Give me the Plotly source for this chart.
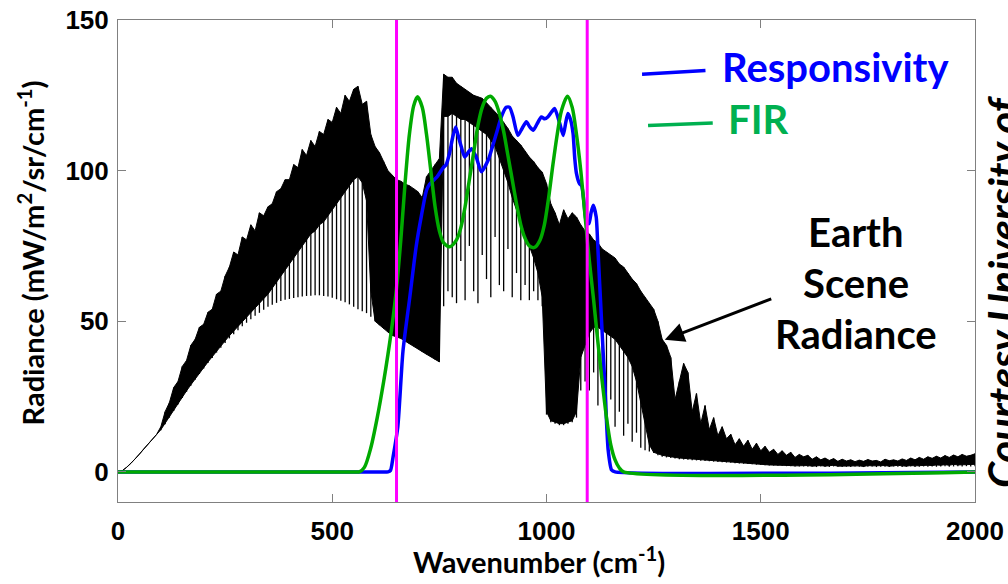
import plotly.graph_objects as go

# ---------------------------------------------------------------------------
# Earth-scene radiance spectrum, sampled every 10 cm^-1 from 0 to 2000 cm^-1.
#   rad_upper : top of the line spectrum (emission peaks)
#   rad_core  : bottom of the densely filled part of the spectrum
#   rad_lower : depth reached by the absorption lines
# ---------------------------------------------------------------------------
wavenumber = list(range(0, 2001, 10))

rad_upper = [
    0, 0.4, 1.5, 2.8, 4.3, 5.9, 7.6, 9.3, 10.9, 12.4,            # 0-90
    15, 20, 23, 28, 30, 35, 37, 42, 44, 48,                      # 100-190
    49, 53, 54, 59, 60, 65, 68, 73, 72, 78,                      # 200-290
    77, 82, 80, 86, 85, 88, 89, 93, 94, 97,                      # 300-390
    97, 102, 101, 107, 105, 110, 108, 113, 112, 117,             # 400-490
    116, 121, 119, 125, 123, 127, 128, 122, 123, 112,            # 500-590
    108, 106, 103, 100, 98.5, 97, 96.5, 95.5, 95, 94,            # 600-690
    93, 91, 98, 100, 102, 104, 132, 131, 131, 129,               # 700-790
    128, 127, 126, 125, 124.5, 124, 122.5, 121, 119.5, 118,      # 800-890
    116, 114, 111.5, 110, 108.5, 106.5, 104.5, 103, 101, 99.5,   # 900-990
    95.7, 89, 86, 82, 87, 84, 86, 84.6, 82, 80,                  # 1000-1090
    79, 77, 76, 74, 73, 72, 71, 69, 68, 66,                      # 1100-1190
    64, 62.5, 60, 58, 56, 54, 50, 44, 42, 38,                    # 1200-1290
    24, 30, 36, 33, 20, 26, 16, 22, 14, 18,                      # 1300-1390
    12, 15, 11, 12.5, 9, 11, 8.5, 10.5, 7.5, 9.5,                # 1400-1490
    7, 8.5, 6.5, 7.5, 5.8, 7, 5.5, 6.5, 4.8, 5.8,                # 1500-1590
    5, 5.5, 4.2, 5.0, 4.0, 4.6, 3.8, 4.4, 3.5, 4.2,              # 1600-1690
    3.6, 4.0, 3.4, 3.9, 3.5, 4.1, 3.6, 3.8, 3.3, 4.2,            # 1700-1790
    3.7, 4.0, 3.6, 4.3, 3.8, 4.6, 4.0, 4.8, 4.2, 5.0,            # 1800-1890
    4.5, 5.2, 4.6, 5.4, 4.8, 5.6, 5.0, 5.8, 5.2, 5.5,            # 1900-1990
    6.0,                                                         # 2000
]

rad_core = [
    0, 0.4, 1.5, 2.8, 4.3, 5.9, 7.6, 9.3, 10.9, 12.4,
    14, 16, 18.3, 20.5, 22.7, 24.8, 26.9, 28.9, 30.9, 32.8,
    34.6, 36.5, 38.3, 40.1, 41.8, 43.5, 45.2, 46.8, 48.4, 50,
    51.5, 53, 54.5, 56, 57.5, 59, 61, 63, 65, 67,
    69, 71, 73, 75, 77, 79, 80, 82, 83, 85,
    87, 89, 91, 93, 95, 97, 98, 96, 90, 60,
    50, 48.7, 47.5, 46.4, 45.3, 44.8, 44.3, 43.4, 42.5, 41.7,
    40.8, 39.9, 39, 38.2, 37.3, 36.5, 118, 118, 119, 118,
    117, 117, 116, 115, 114, 113, 112, 110, 108, 104,
    100, 96, 91, 87, 83, 79, 75, 71, 66, 58,
    20, 17, 16.5, 16, 16, 16.5, 17, 20, 38, 42,
    46, 48, 48, 47, 46, 45, 44, 42, 40, 38,
    35, 30, 24, 16, 9, 6.5, 6, 5.5, 5.2, 5,
    4.8, 4.6, 4.4, 4.3, 4.1, 4.0, 3.9, 3.8, 3.7, 3.6,
    3.5, 3.4, 3.3, 3.2, 3.1, 3.0, 2.9, 2.8, 2.7, 2.6,
    2.5, 2.4, 2.3, 2.3, 2.2, 2.2, 2.1, 2.1, 2.0, 2.0,
    2.0, 2.1, 1.9, 2.0, 2.1, 1.9, 2.0, 2.2, 1.9, 2.0,
    2.1, 1.9, 2.0, 2.0, 1.8, 2.1, 2.0, 1.9, 2.0, 2.1,
    1.9, 2.0, 2.2, 2.0, 1.9, 2.1, 2.0, 2.2, 2.1, 2.2,
    2.1, 2.3, 2.2, 2.4, 2.2, 2.5, 2.3, 2.4, 2.5, 2.4,
    2.5,
]

rad_lower = [
    0, 0.4, 1.5, 2.8, 4.3, 5.9, 7.6, 9.3, 10.9, 12.4,
    13.8, 15.8, 18, 20.2, 22.4, 24.5, 26.6, 28.6, 30.6, 32.5,
    34.3, 36.1, 37.8, 39.6, 41.2, 42.8, 44.3, 45.7, 47.0, 48.3,
    49.5, 50.7, 51.8, 52.8, 53.8, 54.8, 55.5, 56.1, 56.7, 57.1,
    57.4, 57.7, 58.0, 58.2, 58.4, 58.5, 58.6, 58.6, 58.4, 58.2,
    57.8, 57.3, 56.8, 56.3, 55.6, 54.8, 54.0, 53.3, 52.7, 51.5,
    50, 48.7, 47.5, 46.4, 45.3, 44.8, 44.3, 43.4, 42.5, 41.7,
    40.8, 39.9, 39, 38.2, 37.3, 36.5, 55, 60, 58, 56,
    70, 57, 75, 60, 56, 72, 64, 58, 78, 62,
    60, 74, 58, 66, 57, 62, 57, 60, 57, 55,
    19, 16.5, 16, 15.5, 15.5, 16, 16.5, 18, 27, 30,
    27, 33, 22, 28, 18, 24, 15, 20, 12, 16,
    10, 13, 8, 7.2, 6.8, 6.3, 5.5, 5.0, 4.8, 4.6,
    4.4, 4.2, 4.1, 4.0, 3.9, 3.8, 3.7, 3.6, 3.5, 3.4,
    3.3, 3.2, 3.1, 3.0, 2.9, 2.8, 2.7, 2.6, 2.5, 2.4,
    2.3, 2.2, 2.1, 2.1, 2.0, 2.0, 1.9, 1.9, 1.8, 1.8,
    1.8, 1.7, 1.8, 1.6, 1.8, 1.7, 1.6, 1.8, 1.7, 1.6,
    1.7, 1.6, 1.8, 1.7, 1.6, 1.7, 1.8, 1.6, 1.7, 1.7,
    1.6, 1.8, 1.7, 1.6, 1.7, 1.8, 1.6, 1.7, 1.8, 1.7,
    1.8, 1.7, 1.8, 1.9, 1.7, 1.8, 1.9, 1.8, 1.9, 1.8,
    1.9,
]

# Detector responsivity (scaled to the radiance axis)
resp_wn = [0, 600, 630, 636, 642, 653, 665, 681, 696, 708, 720, 727, 745,
           759, 766, 774, 781, 788, 795, 801, 809, 817, 825, 836, 848, 864,
           874, 883, 895, 906, 914, 922, 933, 943, 953, 961, 969, 978, 988,
           996, 1003, 1012, 1019, 1031, 1039, 1045, 1050, 1056, 1062, 1066,
           1070, 1077, 1082, 1087, 1093, 1099, 1104, 1109, 1116, 1120, 1128,
           1136, 1144, 1152, 1160, 2000]
resp_val = [0, 0, 0, 0.5, 5, 15, 40, 58, 75, 85, 93.5, 95.5, 98,
            101, 102, 106, 111, 114.5, 111, 108, 104.5, 106, 107.3, 104.5,
            99.6, 103.5, 108, 112.3, 118, 121, 121, 117.8, 111.7, 114,
            116.2, 114.5, 113.4, 115.5, 117.8, 117.2, 117.8, 119.5, 120.6,
            115.6, 111.7, 116, 119, 117, 112.3, 104, 99, 95.7, 95, 90, 83,
            82.4, 86, 88.5, 84.6, 74, 51.4, 29.3, 7.2, 0.6, 0, 0]

# FIR filter response (scaled to the radiance axis)
fir_wn = [0, 550, 563, 575, 590, 605, 620, 630, 640, 650, 660, 670, 680, 690,
          699, 710, 720, 730, 740, 750, 760, 774, 790, 800, 810, 820, 830,
          840, 850, 860, 869, 880, 890, 900, 910, 920, 930, 940, 950, 960,
          972, 985, 995, 1005, 1015, 1025, 1035, 1049, 1060, 1070, 1080,
          1090, 1100, 1110, 1120, 1130, 1140, 1150, 1160, 1170, 1180, 2000]
fir_val = [0, 0, 0, 1.5, 8, 18, 30, 39, 49, 61, 77, 96, 112, 121.5,
           124.5, 121, 112, 100, 88, 80, 76, 74.7, 77, 81, 88, 97, 106,
           115, 121, 124, 124.7, 123, 119, 113, 105, 97, 89, 82, 77.5, 75,
           74.5, 77, 82, 91, 102, 112, 120, 124.7, 121, 112, 100,
           85, 70, 57, 43, 30, 18, 9, 4, 1.3, 0, 0]

# Band edges of the long-wave channel
band_edges = [650, 1095]

# Axis ticks
x_ticks = [0, 500, 1000, 1500, 2000]
y_ticks = [0, 50, 100, 150]
x_range = [0, 2000]
y_range = [-10, 150]

BLACK = "#000000"
BLUE = "#0000FF"
GREEN = "#00AA00"
LABEL_GREEN = "#00B050"
MAGENTA = "#FF00FF"
FRAME = "#808080"
TEXT_FONT = "Lato"
TICK_FONT = "Liberation Sans"

fig = go.Figure()

# Dense part of the radiance spectrum as a filled band
fig.add_trace(go.Scatter(
    x=wavenumber + wavenumber[::-1],
    y=rad_upper + rad_core[::-1],
    mode="lines", fill="toself", fillcolor=BLACK,
    line=dict(color=BLACK, width=1),
    hoverinfo="skip", showlegend=False,
))

# Individual spectral lines from peak down to absorption depth
line_x, line_y = [], []
for w, hi, lo in zip(wavenumber, rad_upper, rad_lower):
    line_x += [w, w, None]
    line_y += [hi, lo, None]
fig.add_trace(go.Scatter(
    x=line_x, y=line_y, mode="lines",
    line=dict(color=BLACK, width=1.3),
    hoverinfo="skip", showlegend=False,
))

fig.add_trace(go.Scatter(
    x=resp_wn, y=resp_val, mode="lines", name="Responsivity",
    line=dict(color=BLUE, width=3.5, shape="spline", smoothing=0.6),
    showlegend=False,
))
fig.add_trace(go.Scatter(
    x=fir_wn, y=fir_val, mode="lines", name="FIR",
    line=dict(color=GREEN, width=3.5, shape="spline", smoothing=0.8),
    showlegend=False,
))

for edge in band_edges:
    fig.add_trace(go.Scatter(
        x=[edge, edge], y=y_range, mode="lines",
        line=dict(color=MAGENTA, width=3),
        hoverinfo="skip", showlegend=False,
    ))

# Legend-style line keys next to the labels
fig.add_shape(type="line", xref="x", yref="y", x0=1223, y0=132.0, x1=1371, y1=133.2,
              line=dict(color=BLUE, width=3.5))
fig.add_shape(type="line", xref="x", yref="y", x0=1237, y0=115.0, x1=1388, y1=115.8,
              line=dict(color=LABEL_GREEN, width=3.5))

big = dict(family=TEXT_FONT, size=40)
annotations = [
    dict(x=1405, y=134.5, text="<b>Responsivity</b>", xanchor="left", yanchor="middle",
         font=dict(big, color=BLUE)),
    dict(x=1419, y=117, text="<b>FIR</b>", xanchor="left", yanchor="middle",
         font=dict(big, color=LABEL_GREEN)),
    dict(x=1722, y=79.6, text="<b>Earth</b>", xanchor="center", yanchor="middle",
         font=dict(big, color=BLACK)),
    dict(x=1722, y=62.6, text="<b>Scene</b>", xanchor="center", yanchor="middle",
         font=dict(big, color=BLACK)),
    dict(x=1722, y=45.7, text="<b>Radiance</b>", xanchor="center", yanchor="middle",
         font=dict(big, color=BLACK)),
]
for a in annotations:
    a.update(xref="x", yref="y", showarrow=False)
    fig.add_annotation(**a)

# Arrow pointing at the spectrum
fig.add_annotation(x=1276, y=43.9, ax=1528, ay=57.6, xref="x", yref="y",
                   axref="x", ayref="y", text="", showarrow=True,
                   arrowhead=2, arrowsize=1.3, arrowwidth=3, arrowcolor=BLACK)

# Axis titles
fig.add_annotation(x=0.491, y=-0.12, xref="paper", yref="paper",
                   text="<b>Wavenumber (cm<sup>-1</sup>)</b>", showarrow=False,
                   xanchor="center", yanchor="middle",
                   font=dict(family=TEXT_FONT, size=29, color=BLACK))
fig.add_annotation(x=-0.1015, y=0.5156, xref="paper", yref="paper",
                   text="<b>Radiance (mW/m<sup>2</sup>/sr/cm<sup>-1</sup>)</b>",
                   showarrow=False, textangle=-90,
                   xanchor="center", yanchor="middle",
                   font=dict(family=TEXT_FONT, size=29, color=BLACK))

# Credit line along the right edge
fig.add_annotation(x=1.0012, y=0.4357, xref="paper", yref="paper",
                   text="<b><i>Courtesy University of</i></b>", showarrow=False,
                   textangle=-90, xanchor="left", yanchor="middle",
                   font=dict(family=TEXT_FONT, size=42, color=BLACK))

axis_common = dict(
    showline=True, linecolor=FRAME, linewidth=1, mirror="ticks",
    ticks="inside", ticklen=8, tickcolor=FRAME, tickwidth=1,
    showgrid=False, zeroline=False, automargin=False,
    tickfont=dict(family=TICK_FONT, size=26, color=BLACK, weight="bold"),
)
fig.update_xaxes(range=x_range, tickvals=x_ticks, ticklabelstandoff=6, **axis_common)
fig.update_yaxes(range=y_range, tickvals=y_ticks, ticklabelstandoff=3, **axis_common)

fig.update_layout(
    width=1008, height=584,
    margin=dict(l=118, r=33, t=20, b=82),
    paper_bgcolor="white", plot_bgcolor="white",
    showlegend=False,
)

fig.write_html("out.html")
